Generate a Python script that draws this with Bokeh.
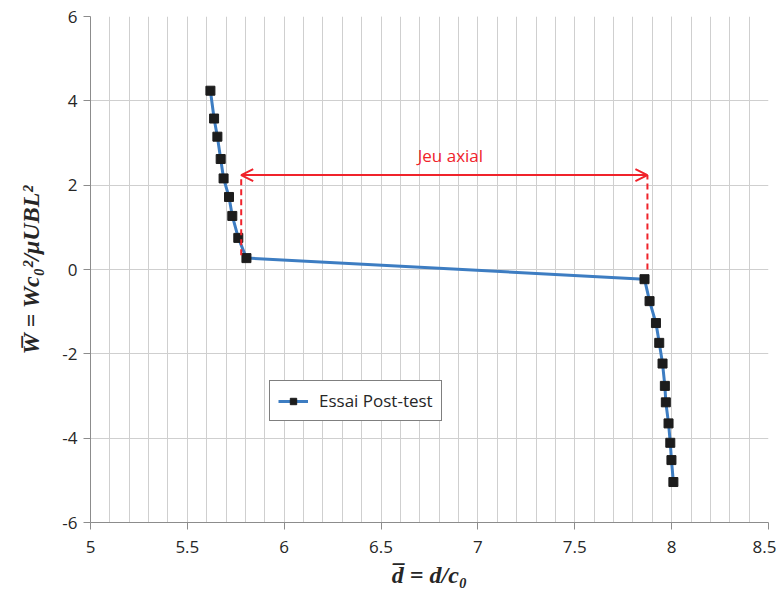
from bokeh.plotting import figure
from bokeh.models import (Legend, LegendItem, Arrow, OpenHead, Label,
                          FixedTicker, ColumnDataSource)
from bokeh.embed import file_html
from bokeh.resources import INLINE

# ---- data ----
d_bar = [5.619, 5.638, 5.655, 5.672, 5.687, 5.715, 5.732, 5.763, 5.805,
         7.860, 7.886, 7.919, 7.936, 7.953, 7.965, 7.970, 7.984, 7.993, 7.999, 8.009]
w_bar = [4.24, 3.58, 3.15, 2.62, 2.16, 1.72, 1.27, 0.75, 0.27,
         -0.23, -0.75, -1.27, -1.74, -2.23, -2.76, -3.15, -3.65, -4.11, -4.52, -5.04]
series_name = "Essai Post-test"

x_ticks = [5, 5.5, 6, 6.5, 7, 7.5, 8, 8.5]
x_tick_labels = ["5", "5.5", "6", "6.5", "7", "7.5", "8", "8.5"]
y_ticks = [-6, -4, -2, 0, 2, 4, 6]
y_tick_labels = ["-6", "-4", "-2", "0", "2", "4", "6"]

# "Jeu axial" annotation
jeu_text = "Jeu axial"
jeu_left_x = 5.778
jeu_right_x = 7.875
jeu_arrow_y = 2.24
jeu_left_bottom = 0.34
jeu_right_bottom = 0.0
jeu_text_x = 6.858
jeu_text_y = 2.43

RED = "#F0232B"
BLUE = "#3D7DC2"
FONT = "Open Sans"
GRID = "#CFCFCF"
AXIS = "#8C8C8C"

p = figure(width=776, height=593, output_backend="svg", toolbar_location=None,
           x_range=(5, 8.5), y_range=(-6, 6),
           min_border_left=90, min_border_right=8, min_border_top=16,
           min_border_bottom=71)
p.outline_line_color = None
p.background_fill_color = "white"
p.border_fill_color = "white"

# axes
p.xaxis.ticker = FixedTicker(ticks=x_ticks,
                             minor_ticks=[round(5 + 0.1 * i, 1) for i in range(36)])
p.yaxis.ticker = FixedTicker(ticks=y_ticks)
p.xaxis.major_label_overrides = dict(zip(x_ticks, x_tick_labels))
p.yaxis.major_label_overrides = dict(zip(y_ticks, y_tick_labels))
for ax in (p.xaxis, p.yaxis):
    ax.axis_line_color = AXIS
    ax.major_tick_line_color = AXIS
    ax.minor_tick_line_color = None
    ax.major_tick_out = 7
    ax.major_tick_in = 0
    ax.major_label_text_font = FONT
    ax.major_label_text_font_size = "17px"
    ax.major_label_text_color = "#262626"
    ax.axis_label_text_font = "Liberation Serif"
    ax.axis_label_text_font_style = "bold italic"
    ax.axis_label_text_font_size = "24px"
    ax.axis_label_text_color = "#262626"
p.xaxis.major_label_standoff = 11
p.yaxis.major_label_standoff = 6
p.xaxis.axis_label = "d\u0305 = d/c\u2080"
p.yaxis.axis_label = "W\u0305 = Wc\u2080\u00b2/\u03bcUBL\u00b2"
p.xaxis.axis_label_standoff = 6
p.yaxis.axis_label_standoff = 15

# grids
p.xgrid.grid_line_color = GRID
p.xgrid.minor_grid_line_color = GRID
p.xgrid.grid_line_width = 1
p.ygrid.grid_line_color = GRID
p.ygrid.grid_line_width = 1

# series
src = ColumnDataSource(dict(x=d_bar, y=w_bar))
line_r = p.line("x", "y", source=src, line_color=BLUE, line_width=3)
sc_r = p.scatter("x", "y", source=src, marker="square", size=9,
                 fill_color="#1C1C1C", line_color="#1C1C1C")

# annotation: dashed verticals and double arrow
ann = ColumnDataSource(dict(x0=[jeu_left_x, jeu_right_x],
                            y0=[jeu_left_bottom, jeu_right_bottom],
                            x1=[jeu_left_x, jeu_right_x],
                            y1=[jeu_arrow_y, jeu_arrow_y]))
p.segment("x0", "y0", "x1", "y1", source=ann, line_color=RED, line_width=2,
          line_dash="6 4")
p.add_layout(Arrow(x_start=jeu_left_x, y_start=jeu_arrow_y,
                   x_end=jeu_right_x, y_end=jeu_arrow_y,
                   line_color=RED, line_width=2,
                   start=OpenHead(size=12, line_color=RED, line_width=2),
                   end=OpenHead(size=12, line_color=RED, line_width=2)))
p.add_layout(Label(x=jeu_text_x, y=jeu_text_y, text=jeu_text,
                   text_font=FONT, text_font_size="17px", text_color=RED,
                   text_align="center", text_baseline="bottom"))

# legend
legend = Legend(items=[LegendItem(label=series_name, renderers=[line_r, sc_r])],
                location=(179, 101), border_line_color="black",
                border_line_width=1, background_fill_alpha=1,
                label_text_font=FONT, label_text_font_size="17px",
                label_text_color="#262626", glyph_width=30, glyph_height=16,
                label_standoff=8, padding=8, margin=0, spacing=0)
legend.padding = 8
legend.label_standoff = 11
p.add_layout(legend, "center")

open("out.html", "w").write(file_html(p, INLINE))
